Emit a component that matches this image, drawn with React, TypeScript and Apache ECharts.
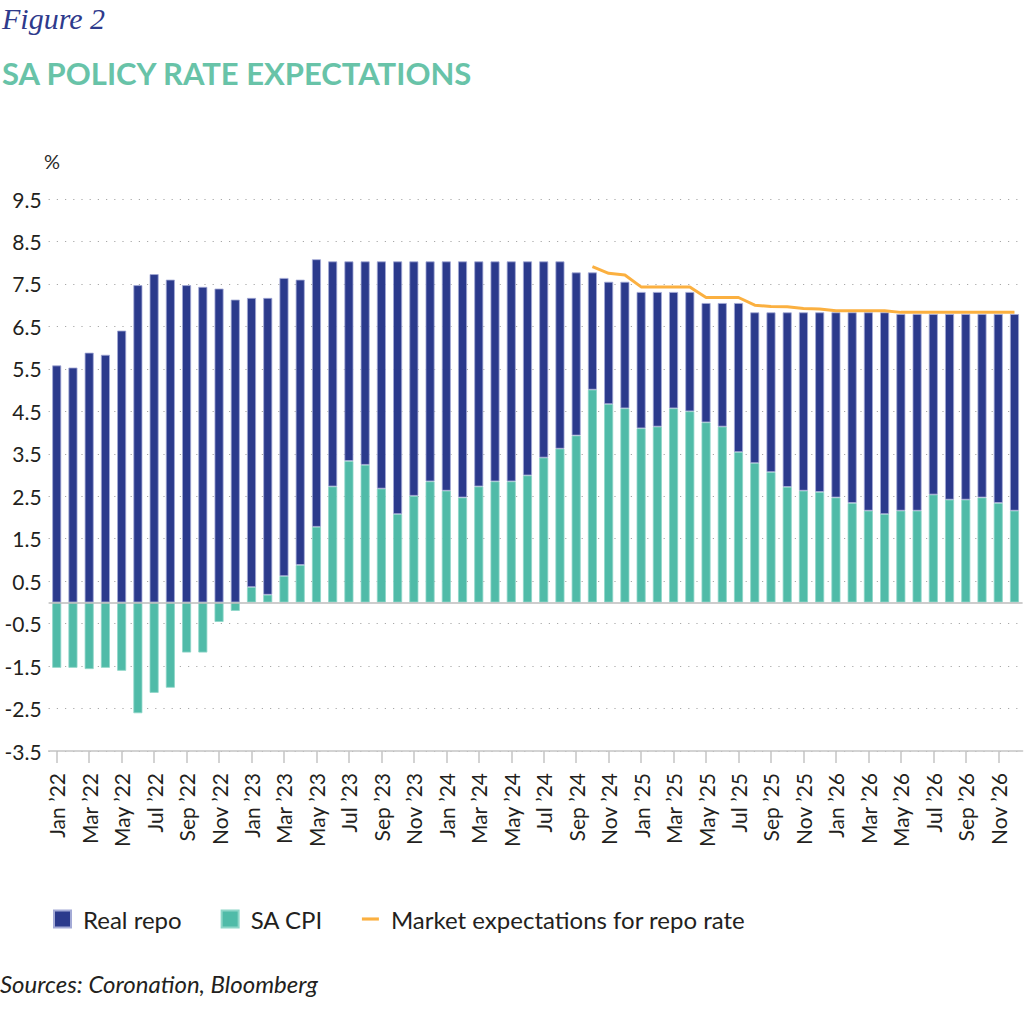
import React, { useEffect, useRef } from 'react';
import * as echarts from 'echarts';

// Month categories, Jan '22 .. Dec '26
const years = ['22', '23', '24', '25', '26'];
const monthNames = ['Jan', 'Feb', 'Mar', 'Apr', 'May', 'Jun', 'Jul', 'Aug', 'Sep', 'Oct', 'Nov', 'Dec'];
const months: string[] = years.flatMap((y) => monthNames.map((m) => `${m} \u2019${y}`));

// y-axis tick labels, bottom to top
const yTickLabels = ['-3.5', '-2.5', '-1.5', '-0.5', '0.5', '1.5', '2.5', '3.5', '4.5', '5.5', '6.5', '7.5', '8.5', '9.5'];

const realRepo = [
  5.58, 5.53, 5.88, 5.83, 6.4, 7.47, 7.73, 7.6, 7.47, 7.43, 7.39, 7.13,
  6.81, 6.99, 7.02, 6.72, 6.3, 5.3, 4.7, 4.79, 5.35, 5.95, 5.52, 5.18,
  5.4, 5.56, 5.3, 5.18, 5.18, 5.04, 4.62, 4.41, 3.84, 2.76, 2.88, 2.98,
  3.21, 3.17, 2.74, 2.81, 2.81, 2.91, 3.51, 3.55, 3.76, 4.11, 4.2, 4.23,
  4.36, 4.49, 4.67, 4.75, 4.63, 4.63, 4.25, 4.37, 4.37, 4.32, 4.45, 4.63,
];

const saCpi = [
  -1.54, -1.54, -1.57, -1.54, -1.61, -2.61, -2.13, -2.01, -1.18, -1.18, -0.46, -0.2,
  0.36, 0.18, 0.62, 0.88, 1.78, 2.73, 3.33, 3.24, 2.68, 2.08, 2.51, 2.85,
  2.63, 2.47, 2.73, 2.85, 2.85, 2.99, 3.41, 3.62, 3.93, 5.01, 4.67, 4.57,
  4.1, 4.14, 4.57, 4.5, 4.24, 4.14, 3.54, 3.28, 3.07, 2.72, 2.63, 2.6,
  2.47, 2.34, 2.16, 2.08, 2.16, 2.16, 2.54, 2.42, 2.42, 2.47, 2.34, 2.16,
];

const marketExpectations = [
  null, null, null, null, null, null, null, null, null, null, null, null,
  null, null, null, null, null, null, null, null, null, null, null, null,
  null, null, null, null, null, null, null, null, null, 7.91, 7.75, 7.71,
  7.43, 7.43, 7.43, 7.43, 7.18, 7.18, 7.18, 7.0, 6.97, 6.96, 6.92, 6.91,
  6.87, 6.87, 6.87, 6.87, 6.83, 6.83, 6.83, 6.83, 6.83, 6.83, 6.83, 6.83,
];

const NAVY = '#2B3A8C';
const TEAL = '#50BBA8';
const ORANGE = '#FBB040';
const FONT = 'Lato, "Noto Sans", sans-serif';

const PolicyRateChart: React.FC = () => {
  const chartRef = useRef<HTMLDivElement | null>(null);

  useEffect(() => {
    if (!chartRef.current) return;
    const chart = echarts.init(chartRef.current, undefined, { renderer: 'svg' });

    const option = {
      animation: false,
      backgroundColor: '#ffffff',
      textStyle: { fontFamily: FONT },
      graphic: [
        {
          type: 'text',
          left: 2,
          top: 3,
          style: {
            text: 'Figure 2',
            fontFamily: '"Liberation Serif", serif',
            fontStyle: 'italic',
            fontSize: 30,
            fill: '#2E3A8C',
          },
        },
        {
          type: 'text',
          left: 2,
          top: 57,
          style: {
            text: 'SA POLICY RATE EXPECTATIONS',
            fontFamily: FONT,
            fontWeight: 'bold',
            fontSize: 31,
            fill: '#68C3A8',
          },
        },
        {
          type: 'text',
          left: 44,
          top: 151,
          style: { text: '%', fontFamily: FONT, fontSize: 20, fill: '#2a2a2a' },
        },
        {
          type: 'text',
          left: 0,
          top: 971,
          style: {
            text: 'Sources: Coronation, Bloomberg',
            fontFamily: FONT,
            fontStyle: 'italic',
            fontSize: 24,
            fill: '#231F20',
          },
        },
      ],
      legend: {
        left: 48,
        top: 902,
        itemWidth: 17,
        itemHeight: 17,
        itemGap: 39,
        textStyle: { fontFamily: FONT, fontSize: 24, color: '#231F20', padding: [0, 0, 0, 7] },
        data: [
          { name: 'Real repo', icon: 'rect' },
          { name: 'SA CPI', icon: 'rect' },
          { name: 'Market expectations for repo rate', icon: 'path://M0 0H19V3.5H0Z' },
        ],
      },
      grid: { left: 48.6, right: 11.4, top: 199, bottom: 284, containLabel: false },
      xAxis: {
        type: 'category',
        data: months,
        boundaryGap: true,
        axisLine: { onZero: false, lineStyle: { color: '#C4C4C4', width: 1.5 } },
        axisTick: { show: true, interval: 1, alignWithLabel: true, length: 12, lineStyle: { color: '#C4C4C4', width: 1.5 } },
        axisLabel: { interval: 1, rotate: 90, margin: 22, fontSize: 21, color: '#231F20', fontFamily: FONT },
        splitLine: { show: false },
      },
      yAxis: [
        {
          type: 'value',
          min: -3.5,
          max: 9.5,
          show: false,
        },
        {
          type: 'category',
          data: yTickLabels,
          boundaryGap: false,
          position: 'left',
          axisLine: { show: false },
          axisTick: { show: false },
          axisLabel: { margin: 7, fontSize: 21, color: '#231F20', fontFamily: FONT },
          splitLine: { show: true, lineStyle: { color: '#A8A8A8', width: 1.2, type: [1.2, 7] } },
        },
      ],
      series: [
        {
          name: 'SA CPI',
          type: 'bar',
          stack: 'rate',
          yAxisIndex: 0,
          barWidth: 9,
          data: saCpi,
          itemStyle: { color: TEAL, borderColor: '#8ED6C8', borderWidth: 0.8 },
          markLine: {
            silent: true,
            symbol: 'none',
            label: { show: false },
            lineStyle: { color: '#BDBDBD', type: 'solid', width: 1.5 },
            data: [{ yAxis: 0 }],
          },
        },
        {
          name: 'Real repo',
          type: 'bar',
          stack: 'rate',
          yAxisIndex: 0,
          barWidth: 9,
          data: realRepo,
          itemStyle: { color: NAVY, borderColor: '#A3AAD6', borderWidth: 0.8 },
        },
        {
          name: 'Market expectations for repo rate',
          type: 'line',
          yAxisIndex: 0,
          data: marketExpectations,
          showSymbol: false,
          connectNulls: false,
          itemStyle: { color: ORANGE },
          lineStyle: { color: ORANGE, width: 3 },
          z: 5,
        },
      ],
    };

    chart.setOption(option);
    return () => {
      chart.dispose();
    };
  }, []);

  return (
    <div
      ref={chartRef}
      style={{ position: 'absolute', left: 0, top: 0, width: '1034px', height: '1035px', margin: 0 }}
    />
  );
};

export default function App() {
  return <PolicyRateChart />;
}
